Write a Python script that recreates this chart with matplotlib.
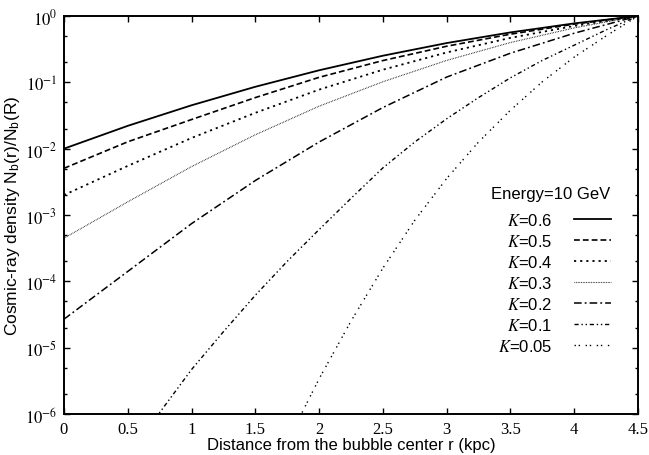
import math
import matplotlib
matplotlib.use("Agg")
import matplotlib.pyplot as plt
from matplotlib.ticker import FixedLocator, FuncFormatter, LogLocator, NullFormatter

plt.rcParams['font.family'] = ['Liberation Sans', 'DejaVu Sans']
plt.rcParams['mathtext.fontset'] = 'stix'

# distance from bubble center (kpc)
r = [0.0, 0.5, 1.0, 1.5, 2.0, 2.5, 3.0, 3.5, 4.0, 4.5]
r_k01 = [0.5, 0.75, 1.0, 1.25, 1.5, 1.75, 2.0, 2.25, 2.5, 2.75, 3.0, 3.25, 3.5, 3.75, 4.0, 4.25, 4.5]
r_k005 = [1.5, 1.75, 2.0, 2.25, 2.5, 2.75, 3.0, 3.25, 3.5, 3.75, 4.0, 4.25, 4.5]

# N_b(r)/N_b(R)
k06 = [1.00e-2, 2.21e-2, 4.51e-2, 8.57e-2, 1.52e-1, 2.52e-1, 3.91e-1, 5.66e-1, 7.74e-1, 1.0]
k05 = [5.06e-3, 1.27e-2, 2.75e-2, 5.89e-2, 1.19e-1, 2.13e-1, 3.50e-1, 5.32e-1, 7.55e-1, 1.0]
k04 = [2.00e-3, 5.50e-3, 1.45e-2, 3.47e-2, 7.76e-2, 1.55e-1, 2.82e-1, 4.68e-1, 7.08e-1, 1.0]
k03 = [4.47e-4, 1.58e-3, 5.37e-3, 1.62e-2, 4.37e-2, 1.02e-1, 2.14e-1, 3.98e-1, 6.61e-1, 1.0]
k02 = [2.69e-5, 1.41e-4, 7.41e-4, 3.31e-3, 1.26e-2, 4.17e-2, 1.20e-1, 2.75e-1, 5.50e-1, 1.0]
k01 = [2.24e-7, 1.05e-6, 4.68e-6, 1.74e-5, 6.17e-5, 2.00e-4, 6.03e-4, 1.78e-3, 5.13e-3,
       1.26e-2, 2.82e-2, 5.89e-2, 1.17e-1, 2.14e-1, 3.63e-1, 6.17e-1, 1.0]
k005 = [4.07e-8, 3.80e-7, 3.39e-6, 2.51e-5, 1.58e-4, 8.32e-4, 3.55e-3, 1.26e-2, 3.80e-2,
        1.02e-1, 2.40e-1, 5.01e-1, 1.0]

labels = ["0.6", "0.5", "0.4", "0.3", "0.2", "0.1", "0.05"]

fig = plt.figure(figsize=(6.49, 4.56), dpi=100)
ax = fig.add_axes([0.0986, 0.0899, 0.8844, 0.8728])

ax.plot(r, k06, color='black', lw=1.3, ls='-', label=r"$K$=" + labels[0])
ax.plot(r, k05, color='black', lw=1.2, ls=(0, (3.5, 1.8)), label=r"$K$=" + labels[1])
ax.plot(r, k04, color='black', lw=1.3, ls=(0, (1.2, 2.2)), label=r"$K$=" + labels[2])
ax.plot(r, k03, color='black', lw=0.8, ls=(0, (0.6, 0.9)), label=r"$K$=" + labels[3])
ax.plot(r, k02, color='black', lw=1.1, ls=(0, (5, 2, 1.2, 2)), label=r"$K$=" + labels[4])
ax.plot(r_k01, k01, color='black', lw=1.0, ls=(0, (3, 2, 1, 2, 1, 2)), label=r"$K$=" + labels[5])
ax.plot(r_k005, k005, color='black', lw=1.0, ls=(0, (1, 2, 1, 4)), label=r"$K$=" + labels[6])

ax.set_yscale('log')
ax.set_xlim(0, 4.5)
ax.set_ylim(1e-6, 1)

ax.xaxis.set_major_locator(FixedLocator(r))
ax.xaxis.set_major_formatter(FuncFormatter(lambda v, p: "%g" % v))
ax.yaxis.set_major_locator(LogLocator(base=10, numticks=10))
ax.yaxis.set_minor_locator(LogLocator(base=10, subs=(2.0, 5.0), numticks=10))
ax.yaxis.set_minor_formatter(NullFormatter())
ax.yaxis.set_major_formatter(FuncFormatter(lambda v, p: r"$10^{%d}$" % round(math.log10(v))))

ax.tick_params(which='both', direction='in', top=True, right=True, width=1.0)
ax.tick_params(which='major', length=4.5, labelsize=12, pad=5)
ax.tick_params(which='minor', length=2.5)
for lab in ax.get_xticklabels():
    lab.set_fontfamily('Liberation Serif')
for sp in ax.spines.values():
    sp.set_linewidth(1.4)

ax.set_xlabel("Distance from the bubble center r (kpc)", fontsize=12, labelpad=0)
ax.set_ylabel(r"Cosmic-ray density N$_\mathregular{b}$(r)/N$_\mathregular{b}$(R)", fontsize=12.5, labelpad=2)

leg = ax.legend(loc='upper right', bbox_to_anchor=(0.967, 0.595), frameon=False,
                markerfirst=False, fontsize=12, title="Energy=10 GeV", title_fontsize=12,
                handlelength=2.2, handletextpad=1.3, labelspacing=0.3, borderpad=0,
                alignment='right')
leg._legend_box.sep = 8

fig.savefig("out.png", dpi=100)
